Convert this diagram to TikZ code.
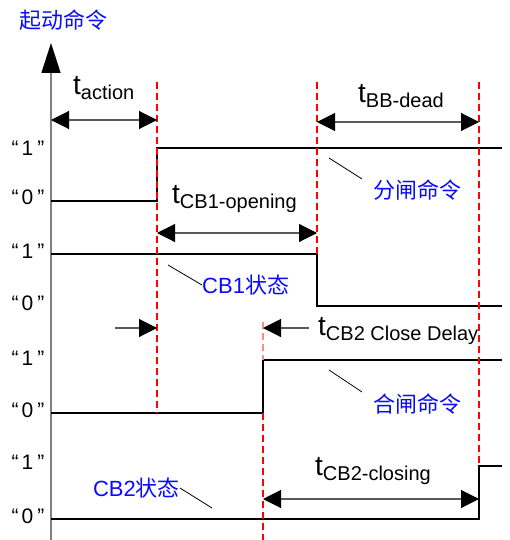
\documentclass[tikz,border=0pt]{standalone}
\usepackage{fontspec}
\setmainfont{Liberation Sans}
\newfontfamily\cjk{Noto Sans CJK SC}
\usepackage{tikz}
\usetikzlibrary{arrows.meta}
\usepackage{xcolor}
\definecolor{cmdblue}{RGB}{10,10,255}
\definecolor{dimgray}{RGB}{90,90,90}
\newcommand{\tlbl}[1]{{\fontsize{28}{28}\selectfont t}\raisebox{-5pt}{\fontsize{20}{20}\selectfont #1}}

\begin{document}
\begin{tikzpicture}[x=1pt,y=-1pt,>={Triangle[length=18pt,width=18pt,color=black]},
  sig/.style={line width=2.7pt,line join=miter},
  tmark/.style={red,line width=1.4pt,dash pattern=on 7pt off 4pt},
  dim/.style={dimgray,line width=1.1pt},
  lvl/.style={font=\fontsize{21}{21}\selectfont,inner sep=0pt},
  tlab/.style={anchor=base west,inner sep=0pt},
  note/.style={text=cmdblue,font=\fontsize{22}{22}\selectfont,inner sep=0pt},
  lead/.style={line width=0.8pt}]
\useasboundingbox (0,0) rectangle (509,540);
% axis
\draw[gray,line width=1.5pt,-{Triangle[length=30pt,width=19pt,color=black]}] (51,540) -- (51,43);
\node[note] (title) at (63,20) {\cjk 起动命令};
% levels
\foreach \y/\v [count=\i] in {148/1,197/0,251/1,303/0,358/1,410/0,462/1,516/0}
  \node[lvl] (lv\i) at (28,\y) {“\kern3pt\v\kern4pt”};
% waveforms
\draw[sig] (51,201) -- (157,201) -- (157,148) -- (502,148);
\draw[sig] (51,254) -- (317,254) -- (317,306) -- (502,306);
\draw[sig] (51,413) -- (263,413) -- (263,360) -- (502,360);
\draw[sig] (51,519) -- (479,519) -- (479,466) -- (502,466);
% time marks
\draw[tmark] (157,82) -- (157,413);
\draw[tmark] (317,82) -- (317,254);
\draw[tmark] (479,82) -- (479,466);
\draw[tmark,red!45] (263,322) -- (263,360);
\draw[tmark] (263,413) -- (263,540);
% intervals
\coordinate (act0) at (51,120);  \coordinate (act1) at (157,120);
\coordinate (bb0) at (317,122);  \coordinate (bb1) at (479,122);
\coordinate (op0) at (157,233);  \coordinate (op1) at (317,233);
\coordinate (dl0) at (115,328);  \coordinate (dl1) at (157,328);
\coordinate (dl2) at (309,328);  \coordinate (dl3) at (263,328);
\coordinate (cl0) at (263,499);  \coordinate (cl1) at (479,499);
\draw[dim,<->] (act0) -- (act1);
\draw[dim,<->] (bb0) -- (bb1);
\draw[dim,<->] (op0) -- (op1);
\draw[dim,->] (dl0) -- (dl1);
\draw[dim,->] (dl2) -- (dl3);
\draw[dim,<->] (cl0) -- (cl1);
\node[tlab] (tAct) at (73,95) {\tlbl{action}};
\node[tlab] (tDead) at (358,103) {\tlbl{BB-dead}};
\node[tlab] (tOpen) at (172,203) {\tlbl{CB1-opening}};
\node[tlab] (tDelay) at (318,335) {\tlbl{CB2 Close Delay}};
\node[tlab] (tClose) at (315,475) {\tlbl{CB2-closing}};
% signal names
\node[note,anchor=west] (nTrip) at (373,190) {\cjk 分闸命令};
\node[note,anchor=west] (nCB1) at (202,285) {CB1{\cjk 状态}};
\node[note,anchor=west] (nClose) at (373,404) {\cjk 合闸命令};
\node[note,anchor=east] (nCB2) at (180,488) {CB2{\cjk 状态}};
\draw[lead] (329,158) -- (362,179);
\draw[lead] (168,265) -- (nCB1.west);
\draw[lead] (329,370) -- (362,392);
\draw[lead] (nCB2.east) -- (212,508);
\end{tikzpicture}
\end{document}
